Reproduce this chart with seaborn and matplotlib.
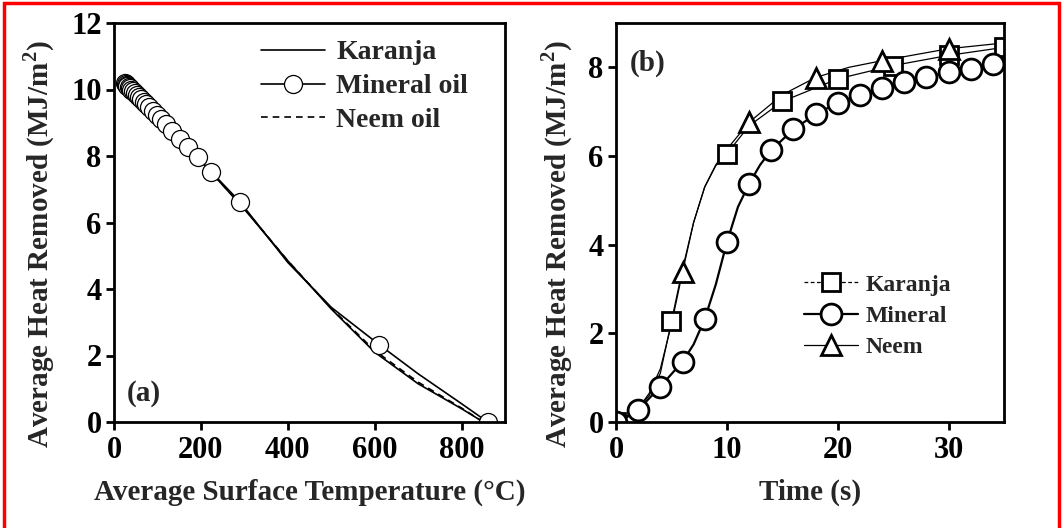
import numpy as np
import pandas as pd
import matplotlib
matplotlib.use("Agg")
import matplotlib.pyplot as plt
from matplotlib.lines import Line2D
from matplotlib.patches import Rectangle
import seaborn as sns

# (a) heat removed vs surface temperature
temp_karanja = [25, 100, 200, 300, 400, 500, 600, 700, 800, 850]
heat_karanja = [10.2, 9.2, 7.85, 6.4, 4.85, 3.4, 2.1, 1.15, 0.4, 0.0]
temp_neem = [25, 100, 200, 300, 400, 500, 600, 700, 800, 850]
heat_neem = [10.2, 9.2, 7.85, 6.42, 4.85, 3.42, 2.15, 1.2, 0.42, 0.0]
temp_mineral = [25, 27, 29, 31, 34, 37, 40, 44, 48, 52, 57, 62, 68, 74, 81, 89,
                98, 108, 119, 133, 152, 170, 193, 223, 290, 611, 860]
heat_mineral = [10.20, 10.17, 10.15, 10.12, 10.08, 10.04, 10.00, 9.95, 9.89, 9.84,
                9.77, 9.71, 9.63, 9.55, 9.46, 9.35, 9.23, 9.10, 8.96, 8.75, 8.52,
                8.27, 7.97, 7.52, 6.62, 2.32, 0.0]
# mineral fitted curve
temp_mineral_fit = [25, 100, 200, 290, 400, 500, 611, 700, 800, 860]
heat_mineral_fit = [10.2, 9.2, 7.85, 6.62, 4.8, 3.45, 2.32, 1.45, 0.55, 0.0]

# (b) heat removed vs time: measured points
time_karanja = [0, 5, 10, 15, 20, 25, 30, 35]
q_karanja = [0, 2.27, 6.05, 7.23, 7.74, 8.04, 8.27, 8.45]
time_neem = [0, 6, 12, 18, 24, 30, 36]
q_neem = [0, 3.38, 6.76, 7.77, 8.15, 8.42, 8.55]
time_mineral = [0, 2, 4, 6, 8, 10, 12, 14, 16, 18, 20, 22, 24, 26, 28, 30, 32, 34]
q_mineral = [0, 0.27, 0.80, 1.36, 2.32, 4.05, 5.37, 6.13, 6.60, 6.94, 7.20, 7.38,
             7.54, 7.67, 7.79, 7.89, 7.97, 8.08]

# (b) smooth curves
time_karanja_fit = [0, 1, 2, 3, 4, 5, 6, 7, 8, 9, 10, 12, 15, 20, 25, 30, 35]
q_karanja_fit = [0, 0.1, 0.3, 0.6, 1.1, 2.27, 3.45, 4.5, 5.3, 5.78, 6.05, 6.68,
                 7.23, 7.74, 8.04, 8.27, 8.45]
time_neem_fit = [0, 1, 2, 3, 4, 5, 6, 7, 8, 9, 10, 12, 15, 18, 21, 24, 30, 35]
q_neem_fit = [0, 0.1, 0.3, 0.65, 1.2, 2.2, 3.38, 4.5, 5.3, 5.8, 6.15, 6.76, 7.38,
              7.77, 8.0, 8.15, 8.42, 8.55]
time_mineral_fit = [0, 2, 4, 6, 7, 8, 9, 10, 11, 12, 13, 14, 16, 18, 20, 22, 24,
                    26, 28, 30, 32, 34, 35]
q_mineral_fit = [0, 0.27, 0.80, 1.36, 1.75, 2.32, 3.1, 4.05, 4.85, 5.37, 5.8, 6.13,
                 6.60, 6.94, 7.20, 7.38, 7.54, 7.67, 7.79, 7.89, 7.97, 8.08, 8.12]

sns.set_theme(style="white")
plt.rcParams["font.family"] = ["Liberation Serif", "DejaVu Serif"]
plt.rcParams["font.weight"] = "bold"
plt.rcParams["axes.labelweight"] = "bold"
plt.rcParams["mathtext.fontset"] = "custom"
plt.rcParams["mathtext.bf"] = "Liberation Serif:bold"
plt.rcParams["mathtext.rm"] = "Liberation Serif:bold"

fig = plt.figure(figsize=(10.64, 5.28), dpi=100)
ax1 = fig.add_axes([114 / 1064, 106 / 528, 391 / 1064, 399 / 528])
ax2 = fig.add_axes([616 / 1064, 106 / 528, 388 / 1064, 399 / 528])

# red frame around the figure (bottom edge falls outside)
fig.patches.append(Rectangle((3.5 / 1064, -0.05), 1055 / 1064, 1.05 - 3.5 / 528,
                             transform=fig.transFigure, fill=False,
                             edgecolor="#ff0000", linewidth=2.5))

# panel (a)
sns.lineplot(x=temp_karanja, y=heat_karanja, ax=ax1, color="black", lw=1.2)
sns.lineplot(x=temp_neem, y=heat_neem, ax=ax1, color="black", lw=1.2,
             linestyle=(0, (4, 3)))
sns.lineplot(x=temp_mineral_fit, y=heat_mineral_fit, ax=ax1, color="black", lw=1.2)
sns.lineplot(x=temp_mineral, y=heat_mineral, ax=ax1, color="black", lw=0,
             marker="o", markersize=13, markerfacecolor="white",
             markeredgecolor="black", markeredgewidth=0.9)
ax1.set_xlim(0, 900)
ax1.set_ylim(0, 12)
ax1.set_xticks([0, 200, 400, 600, 800])
ax1.set_yticks([0, 2, 4, 6, 8, 10, 12])
ax1.set_xlabel("Average Surface Temperature (°C)", fontsize=21, labelpad=10)
ax1.set_ylabel(r"Average Heat Removed (MJ/m$^\mathbf{2}$)", fontsize=21)
ax1.yaxis.set_label_coords(-0.145, 0.446)
ax1.text(30, 0.87, "(a)", fontsize=21, fontweight="bold", va="center")
h1 = [Line2D([], [], color="black", lw=1.2),
      Line2D([], [], color="black", lw=1.2, marker="o", markersize=13,
             markerfacecolor="white", markeredgewidth=0.9),
      Line2D([], [], color="black", lw=1.2, linestyle=(0, (4, 3)))]
ax1.legend(h1, ["Karanja", "Mineral oil", "Neem oil"], loc="upper right",
           bbox_to_anchor=(0.97, 1.02), frameon=False, fontsize=20,
           handlelength=2.3, handletextpad=0.4, labelspacing=0.3)

# panel (b)
mk = dict(color="black", lw=0, markerfacecolor="white",
          markeredgecolor="black", markeredgewidth=2)
sns.lineplot(x=time_karanja_fit, y=q_karanja_fit, ax=ax2, color="black", lw=0.9)
sns.lineplot(x=time_neem_fit, y=q_neem_fit, ax=ax2, color="black", lw=0.9)
sns.lineplot(x=time_mineral_fit, y=q_mineral_fit, ax=ax2, color="black", lw=1.6)
sns.lineplot(x=time_karanja, y=q_karanja, ax=ax2, marker="s", markersize=13, **mk)
sns.lineplot(x=time_neem, y=q_neem, ax=ax2, marker="^", markersize=15, **mk)
sns.lineplot(x=time_mineral, y=q_mineral, ax=ax2, marker="o", markersize=15, **mk)
ax2.set_xlim(0, 35)
ax2.set_ylim(0, 9)
ax2.set_xticks([0, 10, 20, 30])
ax2.set_yticks([0, 2, 4, 6, 8])
ax2.set_xlabel("Time (s)", fontsize=21, labelpad=10)
ax2.set_ylabel(r"Average Heat Removed (MJ/m$^\mathbf{2}$)", fontsize=21)
ax2.yaxis.set_label_coords(-0.106, 0.446)
ax2.text(1.2, 8.1, "(b)", fontsize=21, fontweight="bold", va="center")
h2 = [Line2D([], [], color="black", lw=0.9, linestyle=(0, (3, 2)), marker="s",
             markersize=13, markerfacecolor="white", markeredgewidth=2),
      Line2D([], [], color="black", lw=1.6, marker="o", markersize=15,
             markerfacecolor="white", markeredgewidth=2),
      Line2D([], [], color="black", lw=0.9, marker="^", markersize=15,
             markerfacecolor="white", markeredgewidth=2)]
ax2.legend(h2, ["Karanja", "Mineral", "Neem"], loc="center left",
           bbox_to_anchor=(0.43, 0.265), frameon=False, fontsize=17,
           handlelength=2.3, handletextpad=0.3, labelspacing=0.42)

for ax in (ax1, ax2):
    for s in ax.spines.values():
        s.set_visible(True)
        s.set_color("black")
        s.set_linewidth(2)
    ax.tick_params(direction="out", length=6, width=2, colors="black",
                   labelsize=22, bottom=True, left=True, pad=3)
    ax.tick_params(axis="x", pad=4)
    for lab in ax.get_xticklabels() + ax.get_yticklabels():
        lab.set_fontweight("bold")

fig.savefig("out.png", dpi=100)
